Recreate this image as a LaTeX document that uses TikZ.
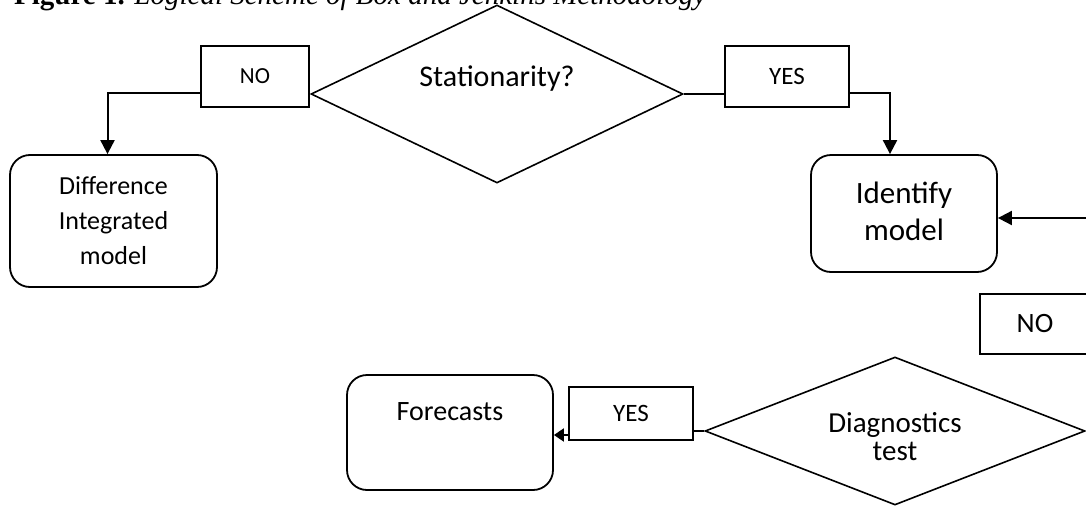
\documentclass[tikz,border=0pt]{standalone}
\usepackage{fontspec}
\setmainfont{Carlito}
\newfontfamily\serifttl{Liberation Serif}
\usetikzlibrary{arrows.meta,shapes.geometric}
\begin{document}
\begin{tikzpicture}[x=1pt,y=-1pt,
  lbl/.style={draw,line width=1.8pt,inner sep=0pt,fill=white},
  rbox/.style={draw,line width=1.8pt,rounded corners=20pt,inner sep=0pt},
  dia/.style={draw,diamond,line width=1.6pt,inner sep=0pt},
  conn/.style={line width=2pt},
  arr/.style={line width=2pt,-{Triangle[length=14pt,width=14pt]}},
  sarr/.style={line width=2pt,-{Triangle[length=10pt,width=13pt]}},
  txt/.style={inner sep=0pt,align=center}
]
\useasboundingbox (0,0) rectangle (1086,506);
\clip (0,0) rectangle (1086,506);
% title (clipped at top)
\node[anchor=base west,inner sep=0pt,font=\serifttl\fontsize{29}{31}\selectfont] (title) at (14,5)
  {\textbf{Figure 1.} \textit{Logical Scheme of Box and Jenkins Methodology}};
% diamonds
\node[dia,minimum width=372pt,minimum height=178pt] (sA) at (497,94) {};
\node[txt,anchor=base,font=\fontsize{30}{34}\selectfont] (sAt) at (497,86) {Stationarity?};
\node[dia,minimum width=380pt,minimum height=148pt] (dT) at (895,431) {};
\node[txt,anchor=base,font=\fontsize{29}{28}\selectfont] (dTt1) at (895,432) {Diagnostics};
\node[txt,anchor=base,font=\fontsize{29}{28}\selectfont] (dTt2) at (895,460) {test};
% label boxes
\node[lbl,minimum width=108pt,minimum height=61pt,font=\fontsize{23}{26}\selectfont] (noA) at (255,76.5) {NO};
\node[lbl,minimum width=124pt,minimum height=61pt,font=\fontsize{25}{28}\selectfont] (yesA) at (787,76.5) {YES};
\node[lbl,minimum width=124pt,minimum height=53pt,font=\fontsize{25}{28}\selectfont] (yesB) at (631,413.5) {YES};
\node[lbl,minimum width=110pt,minimum height=60pt,font=\fontsize{28}{30}\selectfont] (noC) at (1035,324) {NO};
% rounded boxes
\node[rbox,minimum width=207pt,minimum height=132pt] (diff) at (113.5,221) {};
\node[txt,font=\fontsize{26}{35}\selectfont] (difft) at (113.5,221) {Difference\\Integrated\\model};
\node[rbox,minimum width=186pt,minimum height=117pt] (iden) at (904,213.5) {};
\node[txt,font=\fontsize{31}{37}\selectfont] (ident) at (904,211) {Identify\\model};
\node[rbox,minimum width=206pt,minimum height=115pt] (fc) at (450,432.5) {};
\node[txt,anchor=base,font=\fontsize{28}{30}\selectfont] (fct) at (450,420) {Forecasts};
% connectors
\coordinate (rin) at (1092,218);
\draw[arr] ([yshift=15pt]noA.south west) -| ([xshift=-6pt]diff.north);
\draw[conn] (sA.east) -- (sA.east -| yesA.west);
\draw[arr] ([yshift=15pt]yesA.south east) -| ([xshift=-14pt]iden.north);
\draw[arr] (rin) -- (rin -| iden.east);
\draw[conn] (dT.west) -- (dT.west -| yesB.east);
\draw[sarr] ([yshift=-21.5pt]yesB.west) -- ([yshift=-21.5pt]yesB.west -| fc.east);
\end{tikzpicture}
\end{document}
